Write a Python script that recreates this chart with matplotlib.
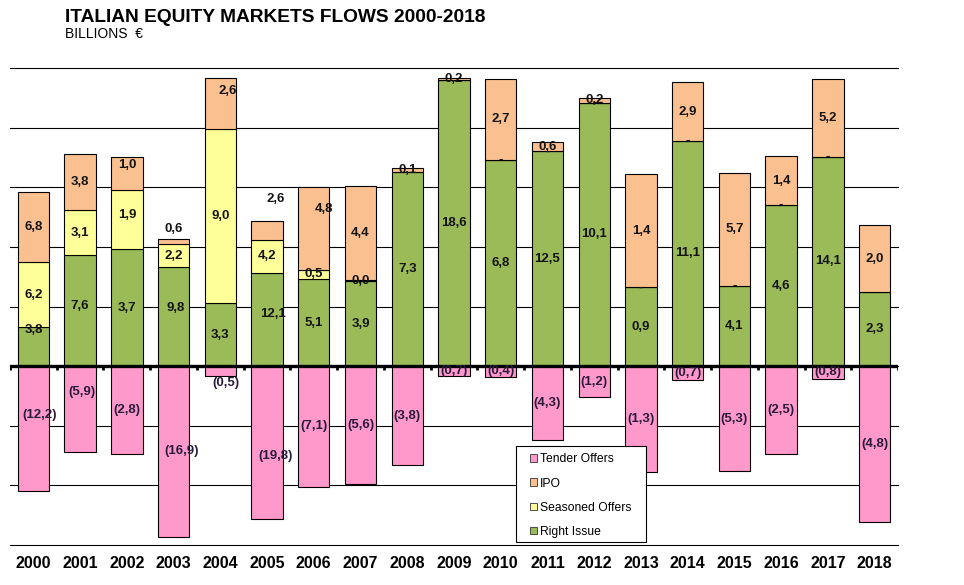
#!/usr/bin/env python

import matplotlib
matplotlib.use("Agg")
import numpy as np
import matplotlib.pyplot as plt
from matplotlib.patches import Patch, Rectangle

# categories
years = ["2000", "2001", "2002", "2003", "2004", "2005", "2006", "2007", "2008", "2009",
         "2010", "2011", "2012", "2013", "2014", "2015", "2016", "2017", "2018"]

# bar heights as drawn in the chart (grid step = 5)
right_issue = [3.3, 9.3, 9.8, 8.3, 5.3, 7.8, 7.3, 7.1, 16.3, 24.0,
               17.3, 18.0, 22.1, 6.6, 18.9, 6.75, 13.5, 17.55, 6.2]
seasoned = [5.4, 3.8, 5.0, 1.9, 14.6, 2.8, 0.8, 0.1, 0.0, 0.0,
            0.0, 0.0, 0.0, 0.0, 0.0, 0.0, 0.0, 0.0, 0.0]
ipo = [5.9, 4.7, 2.7, 0.5, 4.3, 1.6, 6.9, 7.9, 0.35, 0.2,
       6.8, 0.8, 0.35, 9.5, 4.9, 9.45, 4.1, 6.5, 5.6]
tender = [-10.5, -7.2, -7.4, -14.3, -0.8, -12.8, -10.1, -9.9, -8.3, -0.8,
          -0.9, -6.2, -2.6, -8.9, -1.2, -8.8, -7.4, -1.05, -13.1]

# data labels (billions of euro)
right_labels = ["3,8", "7,6", "3,7", "9,8", "3,3", "12,1", "5,1", "3,9", "7,3", "18,6",
                "6,8", "12,5", "10,1", "0,9", "11,1", "4,1", "4,6", "14,1", "2,3"]
seasoned_labels = ["6,2", "3,1", "1,9", "2,2", "9,0", "4,2", "0,5", "0,0", "", "",
                   "-", "-", "-", "-", "-", "-", "-", "-", ""]
ipo_labels = ["6,8", "3,8", "1,0", "0,6", "2,6", "2,6", "4,8", "4,4", "0,1", "0,2",
              "2,7", "0,6", "0,2", "1,4", "2,9", "5,7", "1,4", "5,2", "2,0"]
tender_labels = ["(12,2)", "(5,9)", "(2,8)", "(16,9)", "(0,5)", "(19,8)", "(7,1)", "(5,6)",
                 "(3,8)", "(0,7)", "(0,4)", "(4,3)", "(1,2)", "(1,3)", "(0,7)", "(5,3)",
                 "(2,5)", "(0,8)", "(4,8)"]

GREEN = "#9BBB59"
YELLOW = "#FFFF99"
PEACH = "#FAC090"
PINK = "#FF99CC"

# hand-moved labels: (dx, dy) in pixels, dy positive = down
NUDGES = {
    ("right", 0): (0, -16), ("right", 1): (0, -5), ("right", 3): (2, -9), ("right", 5): (6, -6),
    ("seasoned", 2): (0, -4),
    ("ipo", 2): (0, -9), ("ipo", 3): (0, -13), ("ipo", 4): (7, -12),
    ("ipo", 5): (9, -31), ("ipo", 6): (10, -19),
    ("tender", 0): (6, -14), ("tender", 1): (2, -17), ("tender", 3): (8, 0),
    ("tender", 4): (6, 12), ("tender", 5): (9, 14),
}


def put_labels(ax, name, x, bottom, heights, labels, color):
    """Write one label per segment, centred on it unless nudged."""
    for i, (b, h, txt) in enumerate(zip(bottom, heights, labels)):
        if not txt:
            continue
        dx, dy = NUDGES.get((name, i), (0, 0))
        ax.annotate(txt, xy=(x[i], b + h / 2), xytext=(dx, -dy),
                    textcoords="offset pixels", ha="center", va="center",
                    fontsize=9.5, fontweight="bold", color=color, zorder=4)


def main() -> int:
    plt.rcParams["font.family"] = ["Liberation Sans", "DejaVu Sans"]

    fig = plt.figure(figsize=(9.64, 5.85), dpi=100)
    ax = fig.add_axes([10 / 964, 40 / 585, 888 / 964, 477 / 585])

    x = np.arange(len(years))
    width = 0.672
    ri = np.array(right_issue)
    so = np.array(seasoned)
    ip = np.array(ipo)
    to = np.array(tender)

    for val in range(-15, 30, 5):
        ax.axhline(val, color="black", lw=0.8, zorder=0, clip_on=False)

    kw = dict(width=width, edgecolor="black", linewidth=0.8, zorder=2)
    ax.bar(x, ri, color=GREEN, **kw)
    ax.bar(x, so, bottom=ri, color=YELLOW, **kw)
    ax.bar(x, ip, bottom=ri + so, color=PEACH, **kw)
    ax.bar(x, to, color=PINK, **kw)

    ax.axhline(0, color="black", lw=2.4, zorder=3)
    ax.vlines(np.arange(-0.5, len(years), 1), -0.35, 0, color="black", lw=2.0, zorder=3)

    put_labels(ax, "right", x, np.zeros(len(x)), ri, right_labels, "#141414")
    put_labels(ax, "seasoned", x, ri, so, seasoned_labels, "#141414")
    put_labels(ax, "ipo", x, ri + so, ip, ipo_labels, "#141414")
    put_labels(ax, "tender", x, np.zeros(len(x)), to, tender_labels, "#2a1b3c")

    ax.set_xlim(-0.5, len(years) - 0.5)
    ax.set_ylim(-15, 25)
    ax.set_xticks(x)
    ax.set_xticklabels(years, fontsize=11.5, fontweight="bold")
    ax.tick_params(axis="x", length=0, pad=8)
    ax.set_yticks([])
    for side in ax.spines.values():
        side.set_visible(False)

    fig.text(65 / 964, 1 - 21.7 / 585, "ITALIAN EQUITY MARKETS FLOWS 2000-2018",
             fontsize=13.8, fontweight="bold", va="baseline", ha="left")
    fig.text(65 / 964, 1 - 38.3 / 585, "BILLIONS  €", fontsize=10, va="baseline", ha="left")

    # legend box
    fig.add_artist(Rectangle((516 / 964, 43 / 585), 130 / 964, 96 / 585,
                             transform=fig.transFigure, facecolor="white",
                             edgecolor="black", lw=0.8, zorder=4))
    handles = [Patch(facecolor=PINK, edgecolor="#333333", lw=0.6, label="Tender Offers"),
               Patch(facecolor=PEACH, edgecolor="#333333", lw=0.6, label="IPO"),
               Patch(facecolor=YELLOW, edgecolor="#333333", lw=0.6, label="Seasoned Offers"),
               Patch(facecolor=GREEN, edgecolor="#333333", lw=0.6, label="Right Issue")]
    leg = fig.legend(handles=handles, loc="upper left",
                     bbox_to_anchor=(530 / 964, 1 - 453.5 / 585),
                     frameon=False, fontsize=8.7, handlelength=0.6, handleheight=0.6,
                     handletextpad=0.2, labelspacing=1.0, borderpad=0, borderaxespad=0)
    leg.set_zorder(5)

    fig.savefig("out.png", dpi=100)
    return 0


if __name__ == "__main__":
    main()
